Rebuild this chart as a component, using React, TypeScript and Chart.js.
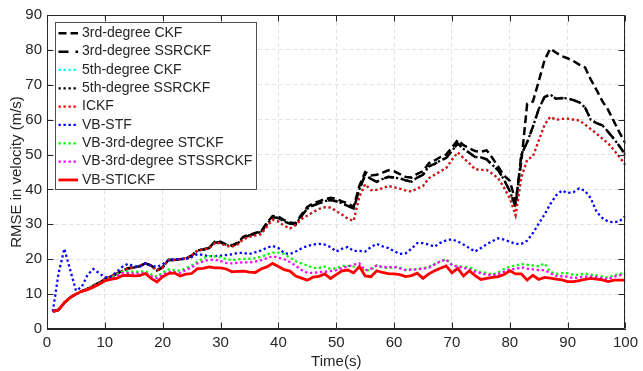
import { useEffect, useRef } from "react";
import { Chart, registerables } from "chart.js";

Chart.register(...registerables);

// Time axis (s) and axis ticks
const TIME_S: number[] = Array.from({ length: 100 }, (_, i) => i + 1);
const X_TICKS = [0, 10, 20, 30, 40, 50, 60, 70, 80, 90, 100];
const Y_TICKS = [0, 10, 20, 30, 40, 50, 60, 70, 80, 90];

// RMSE in velocity (m/s), one value per second, t = 1..100
const CKF_3RD: number[] = [
  5, 5.5, 7.5, 9, 10, 10.8, 11.5, 12.4, 13.2, 14.3,
  15, 15.8, 16.6, 17.4, 17.6, 18, 18.8, 18.2, 16.8, 17.7,
  19.8, 19.8, 20, 20.2, 21, 22.5, 22.8, 23.2, 25, 25,
  24.2, 24, 24.8, 26.5, 27, 27.5, 28, 30.4, 32.4, 32.2,
  31.2, 30.5, 30.3, 32.8, 35, 36, 36.6, 37.2, 37.6, 37.3,
  36.6, 36, 35, 41, 45, 44, 44.2, 44.8, 45.5, 45.2,
  44.4, 43.6, 43.4, 44.5, 45.2, 47.5, 48.3, 49.3, 50, 52,
  54.2, 52.7, 51.8, 51, 50.8, 51.2, 49, 46.5, 44, 42.5,
  36.5, 48, 64.5, 65.2, 71, 77, 80.4, 79.2, 78.2, 77.6,
  76.8, 75.8, 75, 71.5, 68.5, 65.3, 62.8, 59.5, 56.2, 53.2,
];

const SSRCKF_3RD: number[] = [
  5, 5.5, 7.5, 9, 10, 10.8, 11.5, 12.4, 13.2, 14.3,
  15, 15.8, 16.6, 17.4, 17.6, 18, 18.8, 18.2, 16.8, 17.7,
  19.8, 19.8, 20, 20.2, 21, 22.5, 22.8, 23.2, 24.8, 24.8,
  24, 23.8, 24.6, 26.2, 26.8, 27.3, 27.8, 30, 32, 31.8,
  30.8, 30.2, 30, 32.4, 34.5, 35.4, 36, 36.6, 37, 36.6,
  36, 35.3, 34.5, 40, 44.2, 43, 42.2, 43, 43.6, 43.4,
  43.2, 42.6, 42.2, 43.4, 44.2, 46.6, 47.3, 48.3, 49, 51,
  53.2, 51.6, 50.5, 49.3, 49.2, 48.6, 47, 45.5, 42.8, 39.5,
  35, 50, 53.5, 58, 63, 66.5, 67.2, 66, 66.2, 66.1,
  65.6, 65, 63.5, 60, 59, 58.4, 56.5, 54.5, 52.3, 49.9,
];

const ICKF: number[] = [
  5, 5.5, 7.5, 9, 10, 10.8, 11.5, 12.4, 13.2, 14.3,
  15, 15.8, 16.6, 17.4, 17.6, 18, 18.8, 18.2, 16.8, 17.7,
  19.8, 19.8, 20, 20.2, 21, 22.5, 22.8, 23.1, 24.6, 24.6,
  23.8, 23.6, 24.3, 25.8, 26.4, 26.8, 27.2, 29.3, 31.3, 30.8,
  29.6, 28.8, 29.8, 31.5, 32.5, 33.5, 34.4, 34.9, 34.8, 33.8,
  32.8, 31.6, 31, 38, 41.5, 39.8, 39.9, 40.3, 41, 40.6,
  40.2, 39.7, 39.4, 40.3, 41, 43.2, 44.2, 45.2, 46.1, 48.5,
  50.6, 49, 47.5, 45.8, 45.6, 45.6, 44.5, 43.2, 40.5, 37.5,
  32.6, 43.5, 48.5, 49.5, 54, 58.5, 60.8, 60, 60.2, 60.3,
  60, 59.8, 58.6, 57.3, 56, 54.6, 53.2, 51.3, 49.2, 47,
];

// The fifth-degree filters lie on top of the ICKF / 3rd-degree SSRCKF curves
const CKF_5TH: number[] = ICKF;
const SSRCKF_5TH: number[] = SSRCKF_3RD;

const VB_STF: number[] = [
  5, 16, 23, 17, 11, 12, 15.5, 17.2, 16, 14.8,
  15, 16.3, 17.8, 18.7, 18, 17.8, 18.8, 18.2, 17.8, 18.5,
  19.8, 20, 20, 20.1, 20.6, 21.5, 21.2, 20.9, 20.9, 21,
  21.2, 21.4, 21.8, 21.8, 21.5, 22, 22.5, 23.3, 23.8, 23.2,
  21.7, 21.5, 22.2, 23.1, 23.8, 24.2, 24.4, 24.2, 23.5, 22.2,
  23, 23.5, 22.4, 22.4, 22.2, 23.5, 24.4, 23.7, 23.2, 22.3,
  21.5, 21.7, 23, 24.6, 24.6, 24.2, 23.6, 24.7, 25.4, 25.7,
  25.1, 24.2, 23.2, 22.2, 23.2, 24.3, 25.2, 26, 25.6, 25,
  24.4, 24.4, 25.3, 27.5, 30.2, 32.8, 35.8, 38.3, 39.7, 39,
  39.2, 40.3, 39.6, 37.5, 33.6, 31.8, 30.8, 30.6, 30.9, 32.4,
];

const VB_STCKF_3RD: number[] = [
  5, 5.5, 7.5, 9, 10, 10.8, 11.5, 12.3, 13, 14,
  14.6, 15.5, 16.4, 16.5, 16.4, 16.4, 16.6, 15.7, 15, 16.2,
  17.1, 16.9, 16.7, 17.4, 18.2, 19.3, 20.3, 20.9, 20.8, 20.6,
  19.9, 19.8, 20, 20.1, 20.1, 20.3, 20.7, 21.3, 21.9, 21.9,
  21.5, 20.4, 19.4, 18.8, 18.2, 17.5, 17.5, 17.9, 17.2, 17.4,
  18.1, 18.1, 17.9, 17.4, 16.7, 17, 18.2, 17.7, 17.4, 17.8,
  17.6, 17, 17.1, 17.2, 17.4, 17.8, 18.6, 19.4, 20, 18.4,
  18, 17.8, 17.7, 16.8, 16.3, 16.1, 15.6, 16.2, 17.2, 17.9,
  18.2, 18.6, 18.4, 18.2, 18, 18.8, 16.4, 15.8, 16, 16,
  15.5, 15.6, 15.8, 15.6, 15.4, 15, 14.8, 15.4, 15.8, 16.1,
];

const VB_STSSRCKF_3RD: number[] = [
  5, 5.5, 7.5, 9, 10, 10.8, 11.4, 12.2, 12.9, 13.9,
  14.4, 15, 16, 16, 15.9, 15.8, 16.1, 15.2, 14.6, 15.4,
  16.4, 16.3, 16.1, 16.9, 17.6, 18.8, 19.4, 19.8, 19.8, 19.5,
  18.9, 18.8, 19, 19.1, 19.1, 19.3, 19.7, 20.3, 20.9, 20.4,
  20, 19.2, 18.1, 16.9, 16.1, 16.1, 16.3, 16.4, 16.6, 16.9,
  17.5, 17.9, 18.4, 18.8, 16.8, 17.3, 18.2, 17.8, 17.7, 17.8,
  17.4, 16.9, 17, 17.1, 17.3, 17.6, 18.5, 19.4, 19.9, 18.3,
  17.9, 17.5, 17.1, 16.4, 16, 15.6, 15.4, 15.8, 16.4, 17.1,
  17.2, 17.7, 17.3, 17.1, 16.9, 16.9, 16, 15.2, 15.1, 15,
  14.6, 14.8, 15, 15, 14.9, 14.5, 14.3, 15, 15.4, 15.8,
];

const VB_STICKF: number[] = [
  5, 5.5, 7.5, 9, 10, 10.8, 11.3, 12, 12.8, 13.8,
  14.2, 14.5, 15.3, 15.4, 15.2, 15.3, 15.9, 14.5, 13.5, 15,
  15.9, 16.1, 15.2, 15.7, 15.9, 17.3, 17.4, 17.8, 17.5, 17.5,
  17.2, 16.4, 16.5, 16.6, 16.3, 16.2, 17.2, 17.8, 18.8, 17.9,
  17, 16.6, 15.2, 14.6, 14, 14.9, 15.1, 15.8, 14.5, 15.6,
  16.7, 16.9, 16.1, 17.9, 15.2, 15, 16.7, 16.2, 15.9, 15.8,
  15.6, 15, 15.3, 16, 14.5, 15.8, 16.7, 17.4, 18.1, 16.1,
  17.4, 15.2, 16.7, 15.3, 14.2, 14.5, 14.8, 15, 15.6, 16.7,
  15.8, 15.8, 14, 15.4, 14.2, 14.8, 14.6, 14.3, 14.1, 13.6,
  13.6, 13.9, 14.2, 14.5, 14.3, 14.1, 13.6, 14, 14, 14,
];

const LABELS = [
  "3rd-degree CKF",
  "3rd-degree SSRCKF",
  "5th-degree CKF",
  "5th-degree SSRCKF",
  "ICKF",
  "VB-STF",
  "VB-3rd-degree STCKF",
  "VB-3rd-degree STSSRCKF",
  "VB-STICKF",
];
const VALUES = [
  CKF_3RD, SSRCKF_3RD, CKF_5TH, SSRCKF_5TH, ICKF,
  VB_STF, VB_STCKF_3RD, VB_STSSRCKF_3RD, VB_STICKF,
];

// line styles, in plotting order (later ones sit on top)
const DOT = [2.3, 2.7];
const STYLES = [
  { color: "#000000", width: 2.5, dash: [8, 4] },
  { color: "#000000", width: 2.5, dash: [10, 7] },
  { color: "#00ffff", width: 2.3, dash: DOT },
  { color: "#000000", width: 2.3, dash: DOT },
  { color: "#ff0000", width: 2.3, dash: DOT },
  { color: "#0000ff", width: 2.3, dash: DOT },
  { color: "#00ff00", width: 2.3, dash: DOT },
  { color: "#ff00ff", width: 2.3, dash: DOT },
  { color: "#ff0000", width: 2.8, dash: [] as number[] },
];

const FONT = '"Liberation Sans", Arial, Helvetica, sans-serif';
const INK = "#262626";

// axes box with inward ticks on all four sides
const boxPlugin = {
  id: "matlabBox",
  afterDatasetsDraw(chart: any) {
    const { ctx, chartArea: a, scales } = chart;
    const L = Math.round(a.left) + 0.5;
    const R = Math.round(a.right) - 0.5;
    const T = Math.round(a.top) + 0.5;
    const B = Math.round(a.bottom) - 0.5;
    const tl = 6;
    ctx.save();
    ctx.strokeStyle = INK;
    ctx.lineWidth = 1;
    ctx.setLineDash([]);
    ctx.beginPath();
    ctx.rect(L, T, R - L, B - T);
    for (const v of X_TICKS) {
      const x = Math.round(scales.x.getPixelForValue(v)) + 0.5;
      ctx.moveTo(x, B);
      ctx.lineTo(x, B - tl);
      ctx.moveTo(x, T);
      ctx.lineTo(x, T + tl);
    }
    for (const v of Y_TICKS) {
      const y = Math.round(scales.y.getPixelForValue(v)) + 0.5;
      ctx.moveTo(L, y);
      ctx.lineTo(L + tl, y);
      ctx.moveTo(R, y);
      ctx.lineTo(R - tl, y);
    }
    ctx.stroke();
    ctx.restore();
  },
};

// boxed legend in the upper-left corner of the plot
const legendPlugin = {
  id: "matlabLegend",
  afterDraw(chart: any) {
    const { ctx, chartArea: a } = chart;
    const x0 = Math.round(a.left) + 8.5;
    const y0 = Math.round(a.top) + 7.5;
    const w = 201;
    const h = 167;
    const rowH = 18.33;
    const firstRow = y0 + 10.8;
    ctx.save();
    ctx.fillStyle = "#ffffff";
    ctx.fillRect(x0, y0, w, h);
    ctx.strokeStyle = "#4d4d4d";
    ctx.lineWidth = 1;
    ctx.setLineDash([]);
    ctx.strokeRect(x0, y0, w, h);
    ctx.font = `14px ${FONT}`;
    ctx.textBaseline = "middle";
    ctx.textAlign = "left";
    LABELS.forEach((label, i) => {
      const st = STYLES[i];
      const y = firstRow + i * rowH;
      ctx.beginPath();
      ctx.strokeStyle = st.color;
      ctx.lineWidth = st.width;
      ctx.setLineDash(st.dash);
      ctx.lineCap = "butt";
      ctx.moveTo(x0 + 3, y);
      ctx.lineTo(x0 + 22.5, y);
      ctx.stroke();
      ctx.fillStyle = INK;
      ctx.fillText(label, x0 + 26.5, y);
    });
    ctx.restore();
  },
};

export default function App() {
  const canvasRef = useRef<HTMLCanvasElement | null>(null);

  useEffect(() => {
    const canvas = canvasRef.current;
    if (!canvas) return;
    const datasets = LABELS.map((label, i) => ({
      label,
      data: TIME_S.map((t, k) => ({ x: t, y: VALUES[i][k] })),
      borderColor: STYLES[i].color,
      backgroundColor: STYLES[i].color,
      borderWidth: STYLES[i].width,
      borderDash: STYLES[i].dash,
      borderCapStyle: "butt" as const,
      borderJoinStyle: "miter" as const,
      pointRadius: 0,
      tension: 0,
      fill: false,
      order: LABELS.length - i,
    }));

    const chart = new Chart(canvas, {
      type: "line",
      data: { datasets },
      options: {
        animation: false,
        responsive: false,
        devicePixelRatio: 1,
        parsing: false,
        normalized: true,
        layout: { padding: { left: 0, right: 13, top: 15, bottom: 0 } },
        plugins: {
          legend: { display: false },
          tooltip: { enabled: false },
        },
        scales: {
          x: {
            type: "linear",
            min: 0,
            max: 100,
            afterFit: (s: any) => {
              s.height = 42;
            },
            afterBuildTicks: (s: any) => {
              s.ticks = X_TICKS.map((v) => ({ value: v }));
            },
            ticks: {
              autoSkip: false,
              maxRotation: 0,
              padding: 5,
              color: INK,
              font: { family: FONT, size: 15 },
            },
            grid: { color: "#e2e2e2", lineWidth: 1, drawTicks: false },
            border: { display: true, color: INK, dash: [4, 3] },
            title: {
              display: true,
              text: "Time(s)",
              color: INK,
              font: { family: FONT, size: 15 },
              padding: { top: 0, bottom: 0 },
            },
          },
          y: {
            type: "linear",
            min: 0,
            max: 90,
            afterFit: (s: any) => {
              s.width = 47;
            },
            afterBuildTicks: (s: any) => {
              s.ticks = Y_TICKS.map((v) => ({ value: v }));
            },
            ticks: {
              autoSkip: false,
              padding: 5,
              color: INK,
              font: { family: FONT, size: 15 },
            },
            grid: { color: "#e2e2e2", lineWidth: 1, drawTicks: false },
            border: { display: true, color: INK, dash: [4, 3] },
            title: {
              display: true,
              text: "RMSE in velocity (m/s)",
              color: INK,
              font: { family: FONT, size: 15 },
              padding: { top: 8, bottom: 0 },
            },
          },
        },
      },
      plugins: [boxPlugin, legendPlugin],
    });

    return () => chart.destroy();
  }, []);

  return (
    <div style={{ position: "absolute", left: 0, top: 0, width: 643, height: 371, background: "#ffffff" }}>
      <canvas ref={canvasRef} width={643} height={371} style={{ display: "block" }} />
    </div>
  );
}
